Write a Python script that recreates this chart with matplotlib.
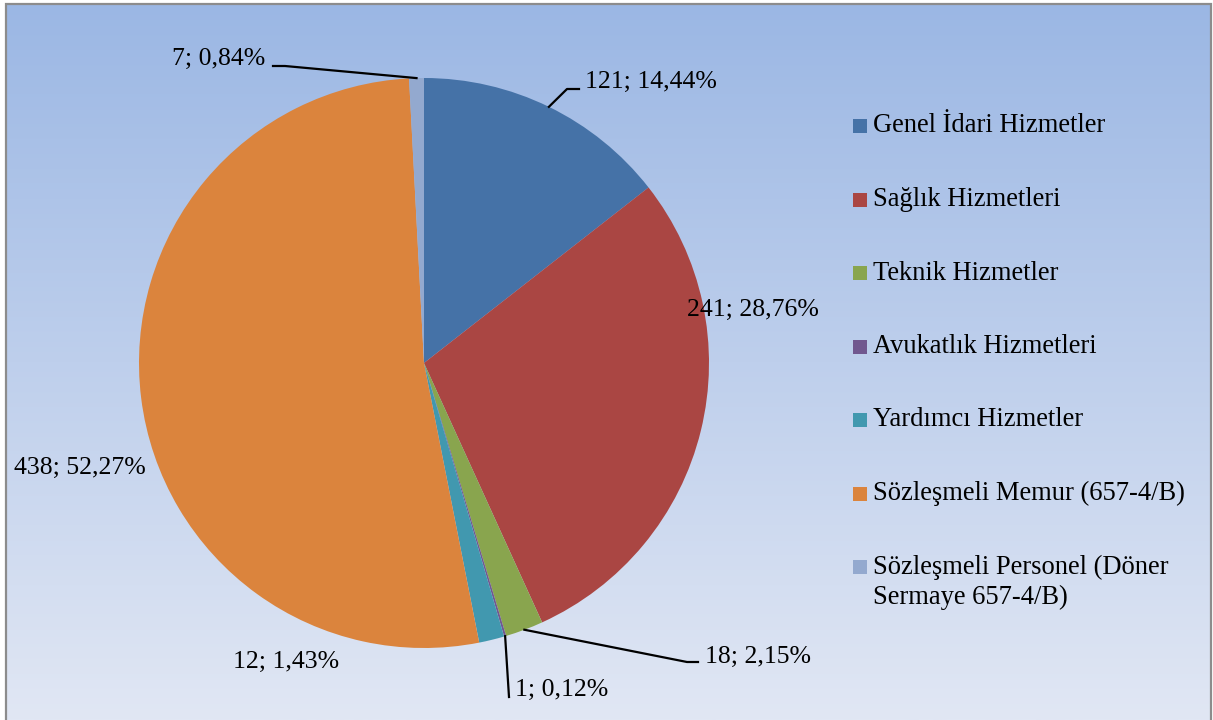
import numpy as np
import matplotlib
matplotlib.use("Agg")
import matplotlib.pyplot as plt
from matplotlib.patches import Rectangle

plt.rcParams['font.family'] = ['Liberation Serif', 'DejaVu Serif']

categories = ["Genel İdari Hizmetler", "Sağlık Hizmetleri", "Teknik Hizmetler",
              "Avukatlık Hizmetleri", "Yardımcı Hizmetler", "Sözleşmeli Memur (657-4/B)",
              "Sözleşmeli Personel (Döner\nSermaye 657-4/B)"]
values = [121, 241, 18, 1, 12, 438, 7]
colors = ["#4572A7", "#AA4643", "#89A54E", "#71588F", "#4198AF", "#DB843D", "#93A9CF"]

W, H = 1213, 720
FS = 18.5
LFS = 19.1

fig = plt.figure(figsize=(W / 100, H / 100), dpi=100)
fig.patch.set_facecolor('white')
ax = fig.add_axes([0, 0, 1, 1])
ax.set_axis_off()

# background gradient (pixel coords, y up)
top = np.array([155, 183, 228]) / 255
bot = np.array([225, 231, 244]) / 255
t = np.linspace(0, 1, 256)[:, None]
grad = top[None, :] * (1 - t) + bot[None, :] * t
ax.imshow(grad[:, None, :], extent=(6, 1211, 0, H - 4), aspect='auto', zorder=0)
ax.plot([6, 6, 1211, 1211], [0, H - 4, H - 4, 0], color='#8c8c8c', lw=1.6, zorder=1,
        solid_joinstyle='miter')

cx, cy, R = 424, H - 363, 285
wedges, _ = ax.pie(values, colors=colors, startangle=90, counterclock=False,
                   center=(cx, cy), radius=R, wedgeprops=dict(linewidth=0),
                   frame=False)
for w in wedges:
    w.set_zorder(2)

total = sum(values)
# label anchors (left x, center y in image pixels) and elbow points for leaders
label_pos = [(585, 82), (687, 310), (705, 657), (515, 690), (233, 662), (14, 468), (172, 59)]
leader = [[(579, 89), (567, 89)], None, [(698, 662), (687, 662)], [(509, 697)], None, None,
          [(273, 66), (285, 66)]]

cum = 0
for i, v in enumerate(values):
    mid = (cum + v / 2) / total
    cum += v
    ang = np.deg2rad(90 - 360 * mid)
    ex, ey = cx + R * np.cos(ang), cy + R * np.sin(ang)
    pct = f"{100 * v / total:.2f}".replace('.', ',')
    lx, ly = label_pos[i]
    ax.text(lx, H - ly, f"{v}; {pct}%", fontsize=FS, ha='left', va='center',
            color='black', zorder=5)
    if leader[i]:
        xs = [p[0] for p in leader[i]] + [ex]
        ys = [H - p[1] for p in leader[i]] + [ey]
        ax.plot(xs, ys, color='black', lw=1.6, zorder=4)

# legend
for i, (lab, col) in enumerate(zip(categories, colors)):
    yc = 126 + i * 73.5
    ax.add_patch(Rectangle((853, H - yc - 7), 14, 14, facecolor=col, edgecolor='none',
                           zorder=5))
    for j, line in enumerate(lab.split('\n')):
        ax.text(873, H - (yc + j * 30), line, fontsize=LFS, ha='left', va='center',
                color='black', zorder=5)

ax.set_xlim(0, W)
ax.set_ylim(0, H)
ax.set_aspect('auto')
fig.savefig('out.png', dpi=100)
